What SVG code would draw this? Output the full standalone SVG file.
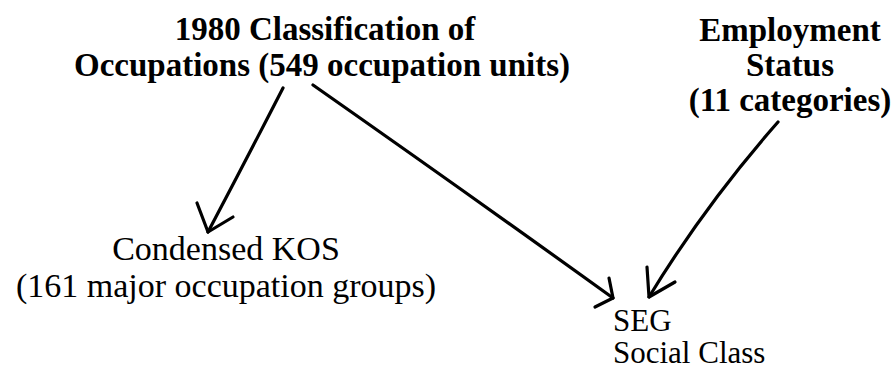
<svg xmlns="http://www.w3.org/2000/svg" width="896" height="372" viewBox="0 0 896 372">
<style>
.b{font-family:"Liberation Serif",serif;font-weight:bold;font-size:33px;fill:#000}
.r{font-family:"Liberation Serif",serif;font-size:34px;fill:#000}
.s{font-family:"Liberation Serif",serif;font-size:31px;fill:#000}
.ln{fill:none;stroke:#000;stroke-width:3.2;stroke-linecap:round;stroke-linejoin:round}
</style>
<rect width="896" height="372" fill="#fff"/>
<g id="classification">
<text class="b" x="325" y="40" text-anchor="middle">1980 Classification of</text>
<text class="b" x="322" y="76" text-anchor="middle">Occupations (549 occupation units)</text>
</g>
<g id="employment">
<text class="b" x="790" y="41" text-anchor="middle">Employment</text>
<text class="b" x="790" y="76" text-anchor="middle">Status</text>
<text class="b" x="790" y="111" text-anchor="middle">(11 categories)</text>
</g>
<g id="kos">
<text class="r" x="226" y="260" text-anchor="middle">Condensed KOS</text>
<text class="r" x="226" y="297" text-anchor="middle">(161 major occupation groups)</text>
</g>
<g id="seg">
<text class="s" x="613" y="331">SEG</text>
<text class="s" x="613" y="363">Social Class</text>
</g>
<g id="connectors">
<path class="ln" d="M283,88 Q246,160 208,232"/>
<path class="ln" d="M197,203 L208,232 L233,217"/>
<path class="ln" d="M313,85 Q470,195 613,298"/>
<path class="ln" d="M609,278 L613,298 L595,307"/>
<path class="ln" d="M778,122 Q705,205 649,297"/>
<path class="ln" d="M647,267 L649,297 L675,282"/>
</g>
</svg>
